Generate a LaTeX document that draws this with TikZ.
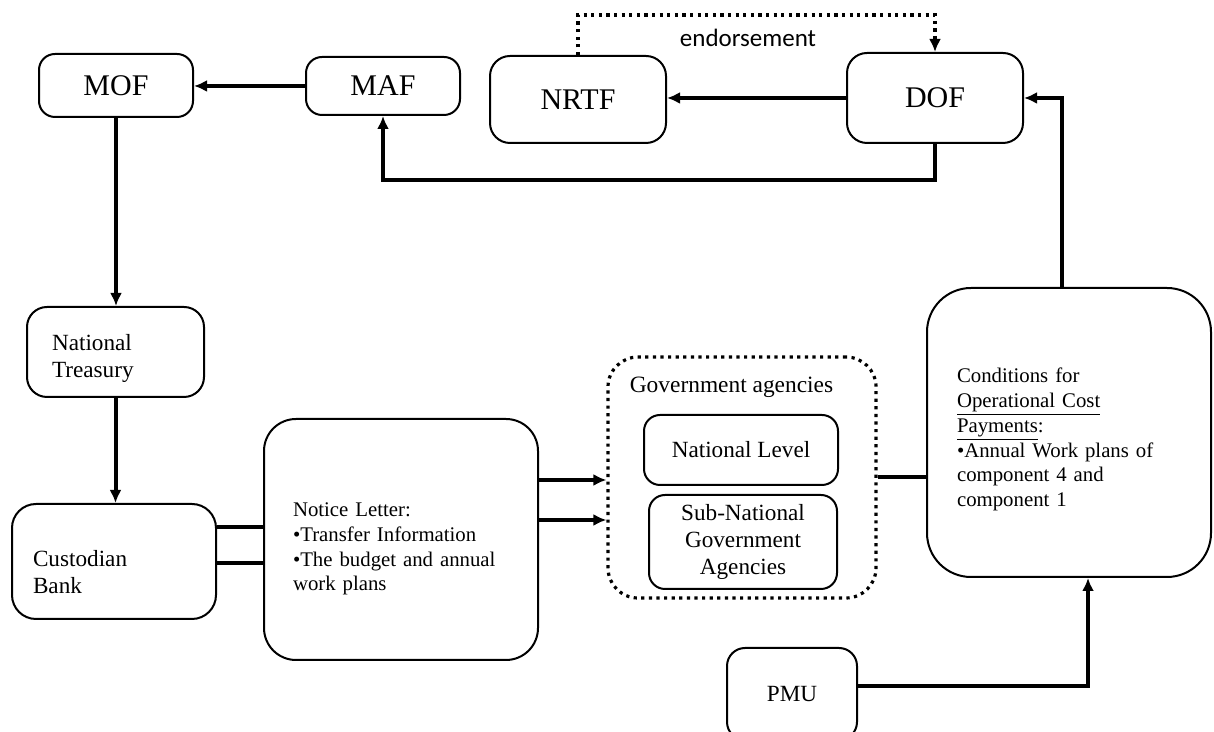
\documentclass[tikz,border=0pt]{standalone}
\usepackage{fontspec}
\setmainfont{Liberation Serif}
\newfontfamily\labelfont{Carlito}
\usepackage{tikz}
\usetikzlibrary{arrows.meta,positioning,calc}

\begin{document}
\begin{tikzpicture}[x=0.5pt,y=0.5pt,
  box/.style={draw,line width=1pt,rounded corners=#1,align=center,inner sep=0pt},
  box/.default=8pt,
  drop/.style={execute at begin node={\rule{0pt}{#1}}},
  bigtxt/.style={font=\fontsize{15}{18}\selectfont},
  midtxt/.style={font=\fontsize{11.6}{13.5}\selectfont},
  smalltxt/.style={font=\fontsize{10.4}{12.4}\selectfont},
  arr/.style={line width=2pt,-{Latex[length=6.5pt,width=6pt]}},
  link/.style={line width=2pt},
  dots/.style={line width=1.6pt,dash pattern=on 1.6pt off 2.2pt}]
\useasboundingbox (0,0) rectangle (1214,732);
% top row
\node[box,bigtxt,minimum width=77pt,minimum height=31.5pt] (mof) at (116,646.5) {MOF};
\node[box,bigtxt,minimum width=77pt,minimum height=29pt] (maf) at (383,646) {MAF};
\node[box=10pt,bigtxt,minimum width=88pt,minimum height=43.5pt] (nrtf) at (578,632.5) {NRTF};
\node[box=10pt,bigtxt,minimum width=88pt,minimum height=45pt] (dof) at (935,634) {DOF};
\node[font=\labelfont\fontsize{12.5}{15}\selectfont] (endo) at (748,694) {endorsement};
% left column
\node[box=10pt,midtxt,drop=15pt,minimum width=88.5pt,minimum height=45pt,text width=63.5pt,align=left] (nt) at (115.5,380) {National\\Treasury};
\node[box=12pt,midtxt,drop=19pt,minimum width=102pt,minimum height=57.5pt,text width=81pt,align=left] (cb) at (114,170.5) {Custodian\\Bank};
\node[box=16pt,smalltxt,drop=16.5pt,minimum width=137pt,minimum height=120.5pt,text width=108pt,align=left] (notice) at (401,192.5)
  {Notice Letter:\\\textbullet Transfer Information\\\textbullet The budget and annual\\work plans};
% government agencies
\node[box=15pt,dots,minimum width=134pt,minimum height=120.5pt] (gov) at (742,254.5) {};
\node[font=\fontsize{11.7}{14}\selectfont] (govlbl) at (731.5,345) {Government agencies};
\node[box,midtxt,minimum width=97pt,minimum height=35pt] (natl) at (741,282) {National Level};
\node[box,midtxt,minimum width=94pt,minimum height=47pt] (subn) at (743,190) {Sub-National\\Government\\Agencies};
% right side
\node[box=22pt,smalltxt,drop=14.5pt,minimum width=142pt,minimum height=144.5pt,text width=112pt,align=left] (cond) at (1069,299.5)
  {Conditions for\\\underline{Operational Cost}\\\underline{Payments}:\\\textbullet Annual Work plans of\\component 4 and\\component 1};
\node[box=9pt,midtxt,minimum width=65pt,minimum height=46pt] (pmu) at (792,38) {PMU};
% connectors
\draw[arr] (maf.west) -- (mof.east |- maf.west);
\draw[arr] (mof.south) -- (mof.south |- nt.north);
\draw[arr] (nt.south) -- (nt.south |- cb.north);
\draw[arr] (dof.west) -- (nrtf.east |- dof.west);
\draw[arr] (dof.south) -- (dof.south |- 0,552) -| (maf.south);
\draw[dots,-{Latex[length=6.5pt,width=6pt]}] (nrtf.north) |- (dof.north |- 0,717) -- (dof.north);
\draw[link] (cb.east |- 0,205) -- (notice.west |- 0,205);
\draw[link] (cb.east |- 0,169) -- (notice.west |- 0,169);
\draw[arr] (notice.east |- 0,252) -- (gov.west |- 0,252);
\draw[arr] (notice.east |- 0,212) -- (gov.west |- 0,212);
\draw[link] (gov.east) -- (cond.west |- gov.east);
\draw[arr] (cond.north -| 1062,0) |- (dof.east);
\draw[arr] (pmu.east |- 0,46) -| (cond.south -| 1088,0);
\end{tikzpicture}
\end{document}
